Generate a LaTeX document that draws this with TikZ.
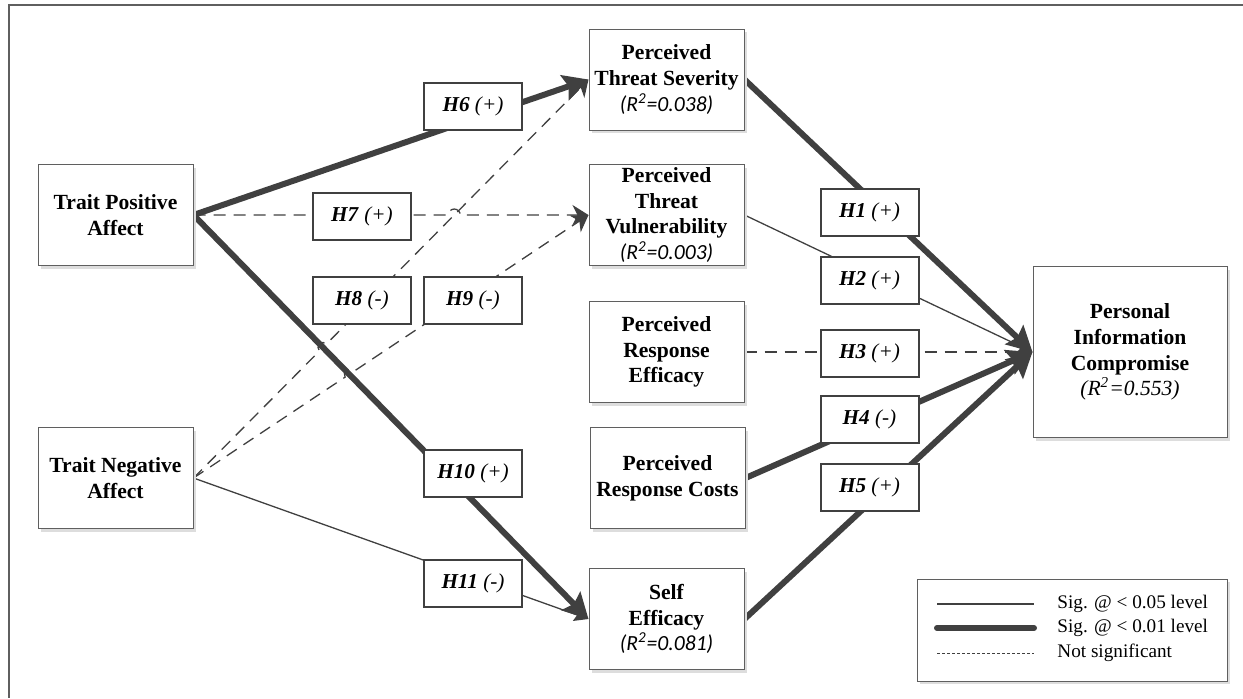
\documentclass[tikz,border=0pt]{standalone}
\usepackage{fontspec}
\setmainfont{Liberation Serif}
\newfontfamily\calibri{Carlito}
\usepackage{tikz}
\usetikzlibrary{arrows.meta, positioning, calc, backgrounds, shadows}
\definecolor{linegray}{HTML}{404040}
\definecolor{boxgray}{HTML}{5F5F5F}
\definecolor{shadowgray}{HTML}{DDDDDD}
\newcommand{\rsq}[1]{{\calibri\mdseries\itshape (R\textsuperscript{2}=#1)}}
\newcommand{\rsqrm}[1]{{\mdseries\itshape (R\textsuperscript{2}=#1)}}
\newcommand{\hyp}[2]{\textbf{\textit{#1}}~\textit{#2}}
\tikzset{
  construct/.style={draw=boxgray, line width=0.5pt, fill=white, align=center, inner sep=0pt,
    minimum width=77.5pt, minimum height=50.5pt,
    font=\fontsize{10.8}{12.9}\selectfont\bfseries,
    drop shadow={shadow xshift=1.5pt, shadow yshift=-1.5pt, fill=shadowgray, opacity=1}},
  hypbox/.style={draw=linegray, line width=1pt, fill=white, inner sep=0pt,
    minimum width=49pt, minimum height=23.5pt, font=\fontsize{10.6}{12}\selectfont},
  sigthin/.style={draw=linegray, line width=0.65pt, -{Stealth[length=7pt, width=7pt, inset=1pt]}},
  sigthick/.style={draw=linegray, line width=3pt, -{Stealth[length=12.5pt, width=13pt, inset=2pt]}},
  notsig/.style={draw=linegray, line width=0.65pt, dash pattern=on 6pt off 4pt,
    -{Stealth[length=8pt, width=10pt, inset=2.5pt]}},
  legendbox/.style={draw=boxgray, line width=0.5pt, fill=white, minimum width=155pt, minimum height=51pt,
    drop shadow={shadow xshift=1.5pt, shadow yshift=-1.5pt, fill=shadowgray, opacity=1}},
  legtext/.style={anchor=west, inner sep=0pt, font=\fontsize{9.6}{11.5}\selectfont}
}
\begin{document}
\begin{tikzpicture}[x=0.5pt, y=-0.5pt]
    \useasboundingbox (0,0) rectangle (1243,698);
    % antecedents
    \node[construct] (tpa) at (115.5,215) {Trait Positive\\Affect};
    \node[construct] (tna) at (115.5,478) {Trait Negative\\Affect};
    % mediators
    \node[construct] (pts) at (666.5,79.5) {Perceived\\Threat Severity\\\rsq{0.038}};
    \node[construct] (ptv) at (666.5,215) {Perceived\\Threat\\Vulnerability\\\rsq{0.003}};
    \node[construct] (pre) at (666.5,352) {Perceived\\Response\\Efficacy};
    \node[construct] (prc) at (667.5,478) {Perceived\\Response Costs};
    \node[construct] (se) at (666.5,619) {Self\\Efficacy\\\rsq{0.081}};
    % outcome
    \node[construct, minimum width=97pt, minimum height=85.5pt] (pic) at (1130,352)
        {Personal\\Information\\Compromise\\\rsqrm{0.553}};
    % hypotheses
    \foreach \n/\x/\y/\t in {h1/869.5/212.5/\hyp{H1}{(+)}, h2/869.5/280.5/\hyp{H2}{(+)},
        h3/869.5/353.5/\hyp{H3}{(+)}, h4/869.5/419.5/\hyp{H4}{(-)}, h5/869.5/487/\hyp{H5}{(+)},
        h6/473/106.5/\hyp{H6}{(+)}, h7/362/216.5/\hyp{H7}{(+)}, h8/362/300/\hyp{H8}{(-)},
        h9/473/300/\hyp{H9}{(-)}, h10/473/473.5/\hyp{H10}{(+)}, h11/473/583.5/\hyp{H11}{(-)}} {
        \node[hypbox] (\n) at (\x,\y) {\t};
    }
    % paths
    \begin{scope}[on background layer]
        \draw[boxgray, line width=0.8pt] (1243,5) -- (9,5) -- (9,698);
        \foreach \a/\b/\s in {tpa/pts/sigthick, tpa/se/sigthick, tna/se/sigthin, pts/pic/sigthick,
            ptv/pic/sigthin, pre/pic/notsig, prc/pic/sigthick, se/pic/sigthick} {
            \draw[\s] (\a.east) -- (\b.west);
        }
        % line jumps
        \coordinate (j7) at (intersection of tpa.east--ptv.west and tna.east--pts.west);
        \coordinate (j8) at (intersection of tna.east--pts.west and tpa.east--se.west);
        \coordinate (j9) at (intersection of tna.east--ptv.west and tpa.east--se.west);
        \draw[notsig] (tpa.east) -- ([xshift=-3pt]j7) arc[start angle=180, end angle=0, radius=3pt] -- (ptv.west);
        \draw[notsig] (tna.east) -- ($(j8)+(225.1:2.5pt)$) arc[start angle=225.1, end angle=45.1, radius=2.5pt] -- (pts.west);
        \draw[notsig] (tna.east) -- ($(j9)+(213.6:2.5pt)$) arc[start angle=213.6, end angle=33.6, radius=2.5pt] -- (ptv.west);
    \end{scope}
    % legend
    \node[legendbox] (legend) at (1072,630) {};
    \node[legtext] (lg1) at (1057,604) {Sig. @ < 0.05 level};
    \node[legtext] (lg2) at (1057,628) {Sig. @ < 0.01 level};
    \node[legtext] (lg3) at (1057,653) {Not significant};
    \draw[linegray, line width=0.65pt] (937,604) -- (1034,604);
    \draw[linegray, line width=3pt, line cap=round] (937,628) -- (1034,628);
    \draw[linegray, line width=0.5pt, dash pattern=on 1.5pt off 1pt] (937,653) -- (1034,653);
\end{tikzpicture}
\end{document}
